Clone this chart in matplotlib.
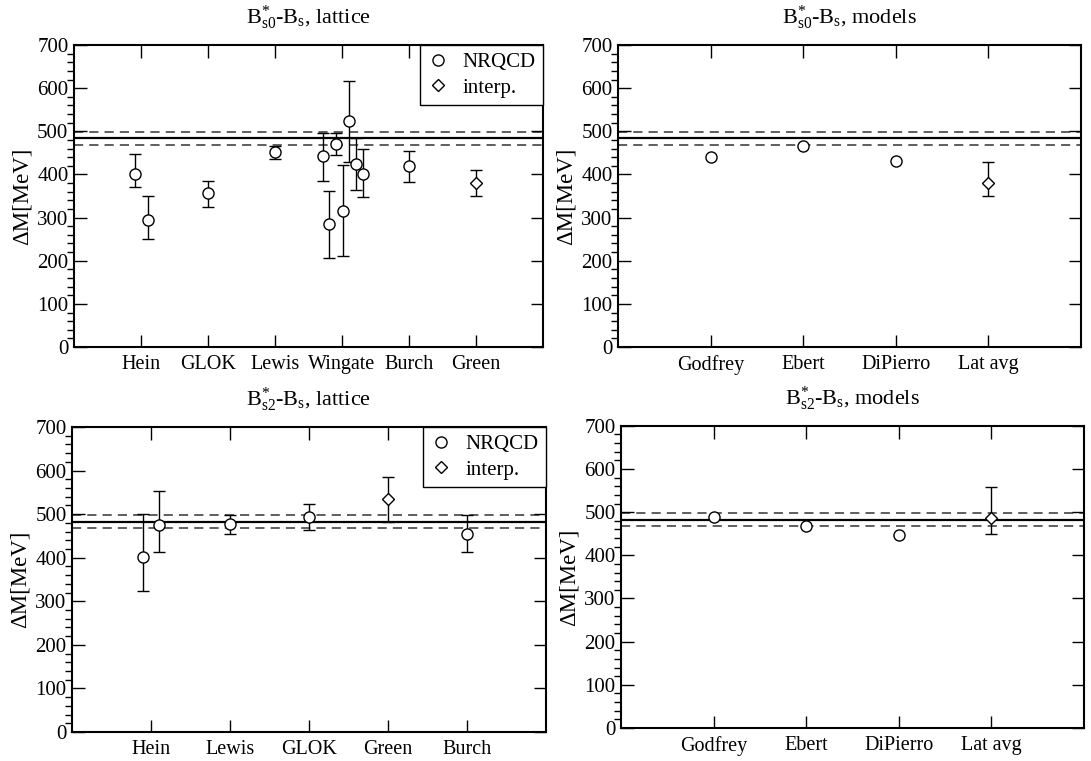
import matplotlib
matplotlib.use("Agg")
from matplotlib import pyplot as plt
from matplotlib.lines import Line2D
from matplotlib.ticker import MultipleLocator

plt.rcParams['font.family'] = ['Liberation Serif', 'DejaVu Serif']
plt.rcParams['mathtext.fontset'] = 'custom'
plt.rcParams['mathtext.rm'] = 'Liberation Serif'
plt.rcParams['mathtext.it'] = 'Liberation Serif:italic'

# B*_s0 - B_s, lattice
s0_lat_labels = ['Hein', 'GLOK', 'Lewis', 'Wingate', 'Burch', 'Green']
s0_lat_x = [0.91, 1.11, 2.0, 3.0, 3.72, 3.81, 3.91, 4.01, 4.11, 4.21, 4.31, 5.0, 6.0]
s0_lat_y = [400, 295, 357, 451, 442, 285, 471, 316, 523, 425, 402, 419, 380]
s0_lat_up = [48, 55, 27, 15, 55, 77, 26, 105, 94, 60, 57, 36, 31]
s0_lat_dn = [30, 45, 32, 16, 56, 78, 25, 106, 94, 60, 55, 37, 30]
s0_lat_kind = ['n'] * 12 + ['i']

# B*_s0 - B_s, models
s0_mod_labels = ['Godfrey', 'Ebert', 'DiPierro', 'Lat avg']
s0_mod_x = [1, 2, 3, 4]
s0_mod_y = [440, 466, 431, 381]
s0_mod_up = [0, 0, 0, 47]
s0_mod_dn = [0, 0, 0, 32]
s0_mod_kind = ['n', 'n', 'n', 'i']

# B*_s2 - B_s, lattice
s2_lat_labels = ['Hein', 'Lewis', 'GLOK', 'Green', 'Burch']
s2_lat_x = [0.9, 1.1, 2.0, 3.0, 4.0, 5.0]
s2_lat_y = [402, 474, 478, 493, 534, 455]
s2_lat_up = [98, 78, 21, 30, 51, 42]
s2_lat_dn = [78, 62, 24, 30, 51, 41]
s2_lat_kind = ['n', 'n', 'n', 'n', 'i', 'n']

# B*_s2 - B_s, models
s2_mod_labels = ['Godfrey', 'Ebert', 'DiPierro', 'Lat avg']
s2_mod_x = [1, 2, 3, 4]
s2_mod_y = [489, 468, 447, 487]
s2_mod_up = [0, 0, 0, 72]
s2_mod_dn = [0, 0, 0, 37]
s2_mod_kind = ['n', 'n', 'n', 'i']

# experimental band (central, low, high)
s0_band = [485, 468, 499]
s2_band = [483, 469, 498]


def draw_panel(ax, labels, xs, ys, up, dn, kinds, band, title, legend):
    ax.axhline(band[0], color='black', lw=1.6, zorder=1)
    for b in band[1:]:
        ax.axhline(b, color='#333333', lw=1.1, ls=(0, (6, 4)), zorder=1)
    for x, y, u, d, k in zip(xs, ys, up, dn, kinds):
        if u or d:
            ax.errorbar(x, y, yerr=[[d], [u]], fmt='none', ecolor='black',
                        elinewidth=1.0, capsize=4.3, capthick=1.0, zorder=2)
        if k == 'n':
            ax.plot(x, y, 'o', ms=8, mfc='white', mec='black', mew=1.0, zorder=3)
        else:
            ax.plot(x, y, 'D', ms=6, mfc='white', mec='black', mew=1.0, zorder=3)
    n = len(labels)
    ax.set_xlim(0, n + 1)
    ax.set_ylim(0, 700)
    ax.set_xticks(range(1, n + 1))
    ax.set_xticklabels(labels, fontsize=14.5)
    ax.yaxis.set_major_locator(MultipleLocator(100))
    ax.yaxis.set_minor_locator(MultipleLocator(20))
    ax.tick_params(axis='both', direction='in', top=True, right=True)
    ax.tick_params(axis='x', length=9, width=1.0, pad=6)
    ax.tick_params(axis='y', which='major', length=9, width=1.0, pad=4, labelsize=15)
    ax.tick_params(axis='y', which='minor', length=5, width=1.0)
    for s in ax.spines.values():
        s.set_linewidth(1.5)
    ax.set_ylabel('ΔM[MeV]', fontsize=16.5, labelpad=3)
    ax.set_title(title, fontsize=16, pad=15)
    if legend:
        h = [Line2D([], [], ls='none', marker='o', ms=8, mfc='white', mec='black'),
             Line2D([], [], ls='none', marker='D', ms=6, mfc='white', mec='black')]
        lg = ax.legend(h, ['NRQCD', 'interp.'], loc='upper right', fontsize=15,
                       borderaxespad=0, fancybox=False, framealpha=1,
                       handlelength=1.0, handletextpad=0.7, borderpad=0.35,
                       labelspacing=0.3)
        lg.get_frame().set_edgecolor('black')
        lg.get_frame().set_linewidth(1.0)


fig = plt.figure(figsize=(10.91, 7.61), dpi=100)
ax1 = fig.add_axes([0.0678, 0.544, 0.4299, 0.3968])
ax2 = fig.add_axes([0.5665, 0.544, 0.4244, 0.3968])
ax3 = fig.add_axes([0.0660, 0.0381, 0.4345, 0.4008])
ax4 = fig.add_axes([0.5692, 0.0434, 0.4244, 0.3970])

draw_panel(ax1, s0_lat_labels, s0_lat_x, s0_lat_y, s0_lat_up, s0_lat_dn, s0_lat_kind,
           s0_band, r'B$^{*}_{\mathrm{s0}}$-B$_{\mathrm{s}}$, lattice', True)
draw_panel(ax2, s0_mod_labels, s0_mod_x, s0_mod_y, s0_mod_up, s0_mod_dn, s0_mod_kind,
           s0_band, r'B$^{*}_{\mathrm{s0}}$-B$_{\mathrm{s}}$, models', False)
draw_panel(ax3, s2_lat_labels, s2_lat_x, s2_lat_y, s2_lat_up, s2_lat_dn, s2_lat_kind,
           s2_band, r'B$^{*}_{\mathrm{s2}}$-B$_{\mathrm{s}}$, lattice', True)
draw_panel(ax4, s2_mod_labels, s2_mod_x, s2_mod_y, s2_mod_up, s2_mod_dn, s2_mod_kind,
           s2_band, r'B$^{*}_{\mathrm{s2}}$-B$_{\mathrm{s}}$, models', False)

fig.savefig('out.png', dpi=100)
